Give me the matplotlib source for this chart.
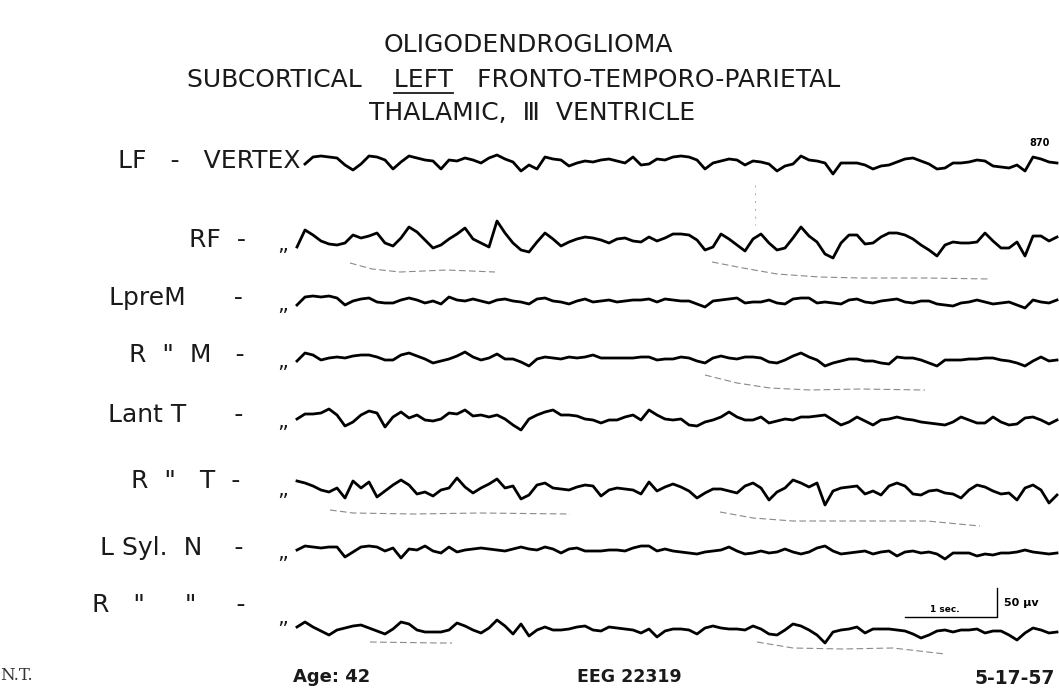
import numpy as np
import matplotlib.pyplot as plt

plt.rcParams['font.family'] = ['DejaVu Sans']

W, H = 1059, 688

# trace amplitudes, pixels above each channel baseline, read every 8 px
lf_vertex = [-2, 5, 6, 5, 4, -3, -8, -2, 6, 5, 2, -7, 0, 6, 4, 2, 1, -7, 2, 1,
             4, 2, -1, 4, 7, 3, 0, -9, -3, -7, 5, 3, 2, -4, -1, 1, 0, 2, 3, 1,
             -1, 5, -3, -2, 3, 2, 5, 6, 5, 2, -7, -1, 1, 3, 2, -3, 1, 0, -2, -9,
             -4, -2, 6, 2, 1, -1, -12, -1, -1, -1, -3, -7, -4, -3, 0, 3, 4, 1, -2, -7,
             -6, -1, -1, 0, 2, 1, -4, -5, -6, -3, -9, 5, 3, 0, -1]
rf = [-7, 10, 5, -1, -4, -5, -3, 5, 2, 4, 7, -3, -6, 2, 13, 8, 0, -8, -5, 1,
      6, 12, 1, -3, -7, 19, 7, -3, -10, -12, -2, 7, 1, -6, -2, 1, 3, 2, 0, -3,
      1, 2, -1, -2, 3, -1, 2, 6, 6, 5, 0, -10, -7, 6, 1, -5, -11, 1, 6, -3,
      -10, -8, 2, 13, 4, -2, -14, -18, -3, 5, 5, -4, -3, 3, 7, 7, 5, 1, -5, -10,
      -16, -5, -2, -3, -3, -2, 7, -1, -8, -8, -2, -16, 4, 4, -1, 3]
lprem = [-5, 3, 4, 3, 4, 2, -5, -1, 1, 2, -2, -3, -3, 0, 2, 0, -3, -1, -4, 3,
         0, -1, 1, -1, -3, 0, 1, -1, -2, -4, 1, 2, -1, -2, -4, -1, 1, -2, -1, 0,
         -2, -1, 0, 0, 1, -2, 1, 0, -1, -1, -4, -7, -1, 0, 1, 2, -3, -2, -2, 0,
         -3, -4, 1, 2, 2, -3, -2, -3, -4, 0, 1, -2, -3, -1, 0, 1, -2, -3, -1, -1,
         -4, -5, -6, -3, -2, 0, -2, -4, -3, -2, -5, -8, 0, -2, -3, 0]
r_m = [-3, 5, 3, -2, 0, 1, 0, 2, 3, 3, 1, -2, -2, 3, 5, 2, -1, -5, -3, -1,
       2, 6, 1, -2, 0, 4, -1, -1, -4, -8, -1, 1, 0, -1, 1, 0, 1, 3, 0, 0,
       0, 0, 0, 1, 1, -2, -1, -1, 1, 0, -3, -5, 0, 2, 0, -1, 1, 1, 0, -4,
       -5, -2, 2, 5, 1, -2, -8, -5, -3, -1, -1, -3, -3, -5, -6, 1, 0, 0, -2, -5,
       -8, -2, -2, -2, -1, -1, 0, 0, -2, -3, -5, -8, -3, 1, -3, -2]
lant_t = [-1, 4, 4, 5, 9, 3, -8, -4, 3, 7, 5, -9, 1, 6, 0, 3, -2, -3, -1, 5,
          4, 8, 2, 3, 1, 3, -1, -7, -12, -1, 3, 6, 8, 3, 3, 2, -1, -2, -5, -2,
          -2, 1, 3, -2, 8, 3, -1, -2, -1, -7, -8, -4, -2, 1, 6, 1, -2, -2, 1, -5,
          -3, -1, -2, 1, 1, 2, 3, -2, -7, -4, 1, -3, -7, -2, -1, 1, -1, -2, -4, -5,
          -6, -7, -4, 1, -2, -5, -5, 1, -4, -7, -6, 0, 1, -2, -6, -2]
r_t = [7, 5, 2, -2, -4, 0, -10, 7, 0, 6, -9, -3, 3, 8, 3, -6, -4, -8, -2, 0,
       10, 1, -5, 0, 4, 9, 0, 2, -11, -7, 3, 5, 0, -1, -2, 1, 3, 2, -8, -2,
       0, -1, -2, -6, 6, -3, 1, 4, 1, -3, -10, -5, -1, -1, -3, -5, 2, 5, 0, -12,
       -4, 0, 8, 5, 1, 5, -17, -3, 0, 1, 2, -6, -3, -7, 2, 5, 2, -6, -7, -3,
       -2, -5, -6, -10, -2, 3, 1, -3, -6, -5, -12, 0, 3, -2, -15, -7]
l_syl_n = [0, 4, 3, 2, 3, 3, -7, -2, 3, 4, 3, -1, 2, -8, 1, 0, 4, -1, -3, 3,
           -2, 0, 1, 2, 1, 0, -1, 1, 3, 1, 0, 3, 1, -3, 1, 2, -1, -1, -1, 0,
           0, -1, 2, 4, 4, -1, 1, -1, -2, -3, -4, -2, -1, 0, 3, -1, -4, -3, -1, -3,
           -2, 1, -2, -4, -2, 2, 4, -1, -4, -3, -2, -1, -4, -2, -1, -6, -2, -1, -3, -2,
           -4, -9, -3, -3, -3, -6, -4, -5, -3, -3, -2, 0, -2, -3, -4, -3]
r_syl_n = [2, 7, 2, -2, -6, -1, 1, 3, 4, 1, -2, -5, 0, 7, 5, -1, -3, -3, -3, -1,
           6, 3, -1, -4, 1, 9, 3, -5, 5, -7, -1, 2, -1, -1, 0, 2, 3, -1, -2, 2,
           1, 0, -1, -4, 0, -8, -2, 0, 0, -1, -5, 1, 3, 1, 0, 0, -1, 3, 0, -5,
           -6, -1, 5, 3, -1, -6, -14, -3, -1, 0, 2, -4, 0, 0, 0, -1, -2, -5, -9, -6,
           -2, -1, -3, -1, -1, 0, -4, -2, -2, -6, -11, -4, 1, -1, -4, -3]

channel_labels = ["RF  -", "LpreM      -", 'R  "  M   -', "Lant T      -", 'R  "   T  -',
                  "L Syl.  N    -", 'R   "     "     -']
channel_traces = [rf, lprem, r_m, lant_t, r_t, l_syl_n, r_syl_n]

# faint pencil guide curves under some channels: x positions and y (px)
guide_x = [[350, 372, 400, 447, 495], [712, 743, 777, 820, 860, 927, 990],
           [705, 737, 770, 810, 860, 925],
           [330, 353, 413, 480, 570], [720, 753, 793, 860, 927, 980],
           [370, 440, 452], [757, 793, 843, 893, 945]]
guide_y = [[263, 269, 272, 270, 272], [262, 268, 274, 277, 278, 278, 279],
           [375, 383, 388, 390, 389, 390],
           [510, 513, 514, 513, 514], [512, 518, 521, 521, 521, 526],
           [642, 643, 643], [642, 648, 649, 648, 654]]

# layout
base_lf = 162
bases = [240, 300, 358, 418, 488, 550, 629]
label_y = [240, 298, 355, 415, 481, 548, 605]
label_right = [246, 243, 245, 243, 240, 243, 245]
ditto_y = [245, 305, 362, 422, 490, 553, 618]
x_start, x_end = 297, 1057
ink = '#1a1a1a'
tsize = 18

fig = plt.figure(figsize=(W / 100, H / 100), dpi=100)
ax = fig.add_axes([0, 0, 1, 1])
ax.set_xlim(0, W)
ax.set_ylim(H, 0)
ax.axis('off')
fig.canvas.draw()
r = fig.canvas.get_renderer()
inv = ax.transData.inverted()

subtitle = "SUBCORTICAL    LEFT   FRONTO-TEMPORO-PARIETAL"
tk = dict(color=ink, ha='center', va='center', fontsize=tsize)
ax.text(528, 45, "OLIGODENDROGLIOMA", **tk)
sub = ax.text(514, 80, subtitle, **tk)
ax.text(532, 113, "THALAMIC,  \u2162  VENTRICLE", **tk)

# underline LEFT
bb = sub.get_window_extent(r)
pre = ax.text(0, 0, "SUBCORTICAL    ", fontsize=tsize, alpha=0)
wpre = pre.get_window_extent(r).width
lt = ax.text(0, 0, "LEFT", fontsize=tsize, alpha=0)
wleft = lt.get_window_extent(r).width
p0 = inv.transform((bb.x0 + wpre, bb.y0))
p1 = inv.transform((bb.x0 + wpre + wleft, bb.y0))
ax.plot([p0[0], p1[0]], [p0[1] + 1, p1[1] + 1], color=ink, lw=1.3)

ax.text(1040, 143, "870", fontsize=7, fontweight='bold', ha='center', va='center')
ax.text(300, 161, "LF   -   VERTEX", fontsize=18, ha='right', va='center', color=ink)

x = np.linspace(305, x_end, len(lf_vertex))
ax.plot(x, base_lf - np.array(lf_vertex), color='black', lw=2.0)

for lab, ly, lr, dy, base, tr in zip(channel_labels, label_y, label_right, ditto_y, bases, channel_traces):
    ax.text(lr, ly, lab, fontsize=18, ha='right', va='center', color=ink)
    ax.text(283, dy, "\u201e", fontsize=15, ha='center', va='center', color=ink)
    x = np.linspace(x_start, x_end, len(tr))
    ax.plot(x, base - np.array(tr), color='black', lw=2.0)

for gx, gy in zip(guide_x, guide_y):
    ax.plot(gx, gy, color='#8a8a8a', lw=0.8, ls=(0, (6, 3)))
ax.plot([755, 755], [185, 225], color='#aaaaaa', lw=0.7, ls=(0, (2, 6)))

# calibration
ax.plot([905, 997, 997], [617, 617, 588], color='black', lw=1)
ax.text(945, 609, "1 sec.", fontsize=6.5, fontweight='bold', ha='center', va='center')
ax.text(1004, 603, "50 \u03bcv", fontsize=8, fontweight='bold', ha='left', va='center')

ax.text(0, 675, "N.T.", fontsize=12, family='DejaVu Serif', ha='left', va='center', color='#333333')
ax.text(293, 677, "Age: 42", fontsize=13, fontweight='bold', ha='left', va='center', color=ink)
ax.text(629, 677, "EEG 22319", fontsize=12.5, fontweight='bold', ha='center', va='center', color=ink)
ax.text(1055, 678, "5-17-57", fontsize=13.5, fontweight='bold', ha='right', va='center', color=ink)

fig.savefig('out.png', dpi=100)
